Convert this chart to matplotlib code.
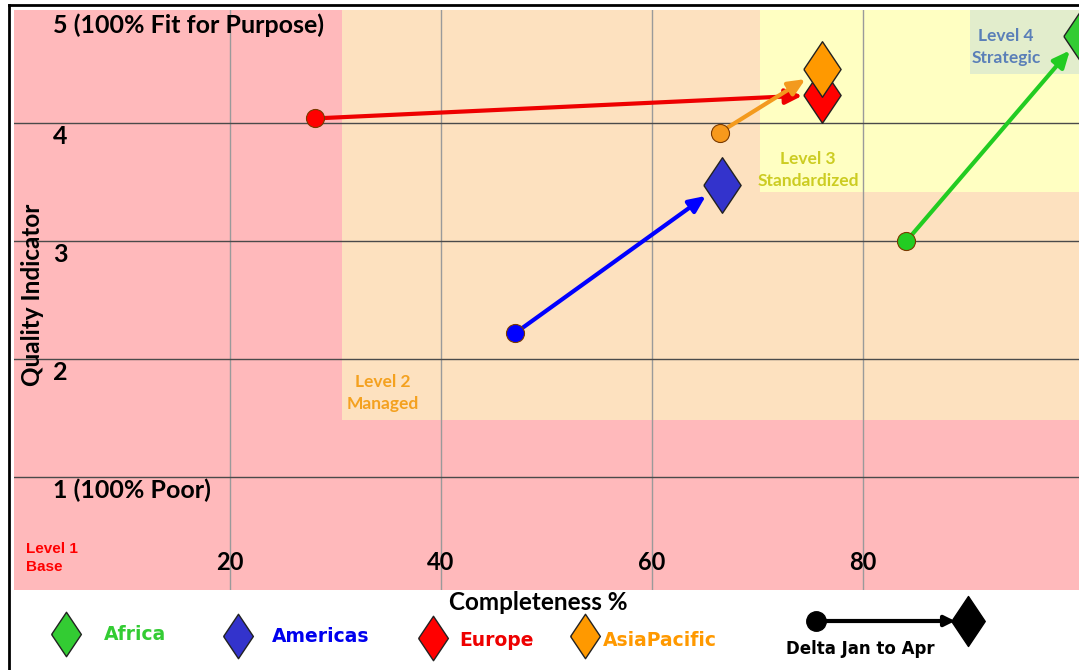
import matplotlib
matplotlib.use("Agg")
import matplotlib.pyplot as plt
from matplotlib.patches import Rectangle

plt.rcParams['font.family'] = ['Lato', 'DejaVu Sans']

regions = ["Africa", "Americas", "Europe", "AsiaPacific"]
jan_x = [84.1, 47.0, 28.1, 66.4]
jan_y = [3.00, 2.22, 4.04, 3.92]
apr_x = [100.8, 66.6, 76.1, 76.1]
apr_y = [4.74, 3.48, 4.24, 4.46]
circle_colors = ["#22CC22", "#0000FF", "#FF0000", "#F7991C"]
diamond_colors = ["#33CC33", "#3333CC", "#FF0000", "#FF9900"]
arrow_colors = ["#22CC22", "#0000FF", "#EE0000", "#F39A1E"]
text_colors = ["#33CC33", "#0000EE", "#EE0000", "#FF9900"]

x_ticks = [20, 40, 60, 80]
y_ticks = [1, 2, 3, 4, 5]
y_tick_labels = ["1 (100% Poor)", "2", "3", "4", "5 (100% Fit for Purpose)"]

# maturity levels: (x start, y start, colour)
levels = [
    (-1, -1, "#FFB9BB"),
    (30.6, 1.49, "#FDE1BF"),
    (70.2, 3.42, "#FFFFC2"),
    (90.1, 4.42, "#E2EDCC"),
]

diamond = [(-0.67, 0), (0, 1), (0.67, 0), (0, -1), (-0.67, 0)]

W, H = 1079, 670
fig = plt.figure(figsize=(W / 100, H / 100), dpi=100)
fig.patch.set_facecolor("white")

ax = fig.add_axes([14 / W, 80 / H, (W - 14) / W, 580 / H])
ax.set_xlim(-0.47, 100.47)
ax.set_ylim(0.047, 4.958)
ax.set_facecolor("white")
for s in ax.spines.values():
    s.set_visible(False)
ax.set_xticks([])
ax.set_yticks([])

for x0, y0, col in levels:
    ax.add_patch(Rectangle((x0, y0), 200, 10, facecolor=col, edgecolor="none", zorder=0))

ax.text(0.7, 0.318, "Level 1\nBase", color="#FF0000", fontsize=11, fontweight="bold",
        ha="left", va="center", linespacing=1.3, family=['Liberation Sans', 'DejaVu Sans'])
ax.text(34.5, 1.715, "Level 2\nManaged", color="#F4A11F", fontsize=12.5, fontweight="bold",
        ha="center", va="center", linespacing=1.45)
ax.text(74.8, 3.60, "Level 3\nStandardized", color="#CCCC22", fontsize=12.5, fontweight="bold",
        ha="center", va="center", linespacing=1.45)
ax.text(93.55, 4.645, "Level 4\nStrategic", color="#5A7FB8", fontsize=12.5, fontweight="bold",
        ha="center", va="center", linespacing=1.45)

for xt in x_ticks:
    ax.axvline(xt, color="#9A9A9A", lw=1, zorder=1)
    ax.text(xt, 0.284, str(xt), ha="center", va="center", fontsize=17, fontweight="bold", zorder=3)
for yt, lab in zip(y_ticks, y_tick_labels):
    if yt < 5:
        ax.axhline(yt, color="#4A4A4A", lw=1, zorder=1)
    ax.text(3.2, yt - 0.11 if yt < 5 else 4.83, lab, ha="left", va="center",
            fontsize=18, fontweight="bold", zorder=3)

ax.text(1.3, 2.55, "Quality Indicator", rotation=90, ha="center", va="center",
        fontsize=17.5, fontweight="bold", zorder=3)

for i in range(len(regions)):
    ax.annotate("", xy=(apr_x[i], apr_y[i]), xytext=(jan_x[i], jan_y[i]),
                arrowprops=dict(arrowstyle="-|>,head_length=1.0,head_width=0.45",
                                color=arrow_colors[i], lw=3, shrinkA=6, shrinkB=14),
                zorder=4, annotation_clip=False)
    ax.plot(jan_x[i], jan_y[i], "o", ms=13, color=circle_colors[i], mec="#7a3a00",
            mew=0.8, zorder=5, clip_on=False)

for i in range(len(regions)):
    ax.plot(apr_x[i], apr_y[i], marker=diamond, ms=40, color=diamond_colors[i], mec="#222222",
            mew=1, zorder=6, clip_on=False)

# legend strip
lg = fig.add_axes([0, 0, 1, 80 / H])
lg.set_xlim(0, W)
lg.set_ylim(80, 0)
lg.axis("off")
fig.text(538 / W, 1 - 602 / H, "Completeness %", ha="center", va="center",
         fontsize=17.5, fontweight="bold")
leg_marker_x = [66, 238, 433, 585]
leg_marker_y = [44, 46, 48, 46]
leg_text_x = [104, 272, 459, 603]
leg_text_y = [44, 47, 51, 50]
for i, name in enumerate(regions):
    lg.plot(leg_marker_x[i], leg_marker_y[i], marker=diamond, ms=32, color=diamond_colors[i],
            mec="#222222", mew=1)
    lg.text(leg_text_x[i], leg_text_y[i], name, color=text_colors[i], fontsize=13.5,
            fontweight="bold", ha="left", va="center",
            family=['Liberation Sans Narrow', 'DejaVu Sans'])
lg.annotate("", xy=(955, 31), xytext=(816, 31),
            arrowprops=dict(arrowstyle="-|>,head_length=0.6,head_width=0.3", color="black",
                            lw=3, shrinkA=0, shrinkB=0))
lg.plot(816, 31, "o", ms=14, color="black")
lg.plot(968, 31, marker=diamond, ms=36, color="black")
lg.text(860, 59, "Delta Jan to Apr", fontsize=12, fontweight="bold", ha="center", va="center",
        family=['Liberation Sans Narrow', 'DejaVu Sans'])

# outer frame
fig.add_artist(plt.Line2D([9 / W, 9 / W], [0, 1 - 5 / H], color="black", lw=2))
fig.add_artist(plt.Line2D([9 / W, 1], [1 - 5 / H, 1 - 5 / H], color="black", lw=2))

fig.savefig("out.png", dpi=100)
